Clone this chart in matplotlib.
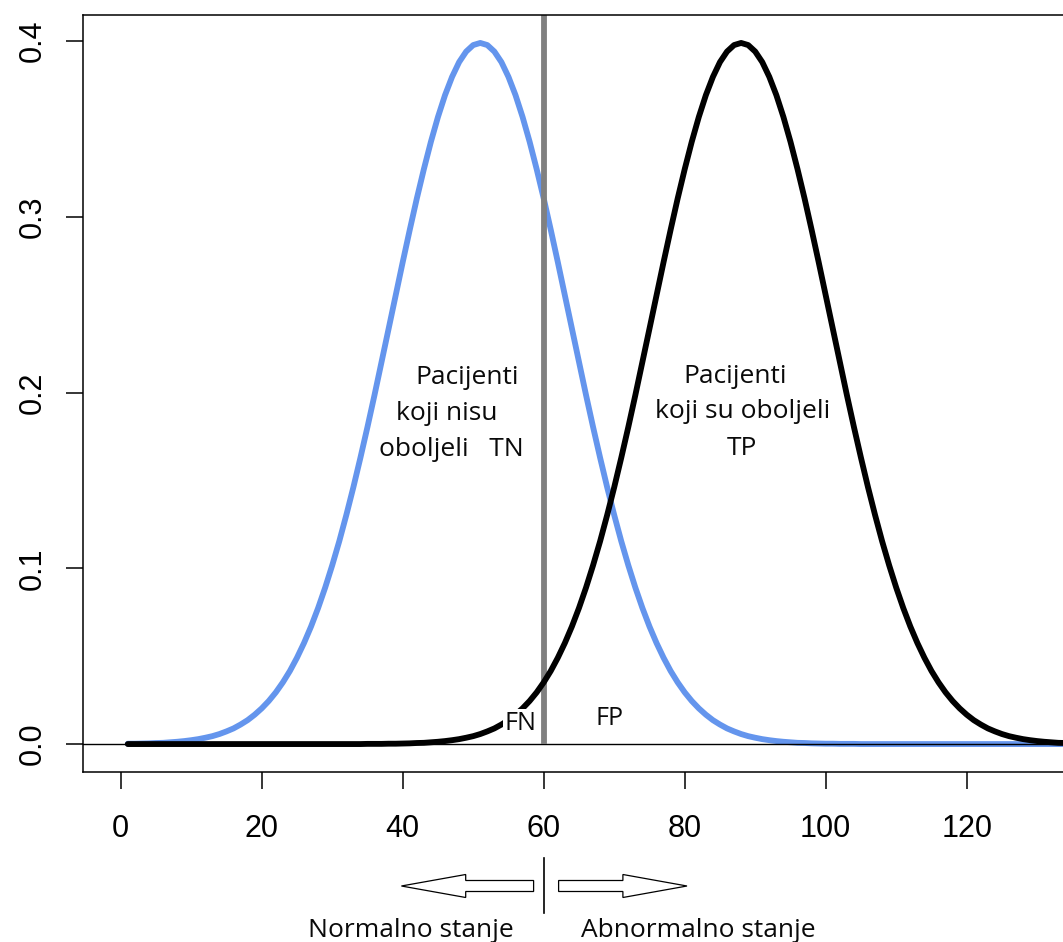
import matplotlib
matplotlib.use("Agg")
import matplotlib.pyplot as plt
from matplotlib.patches import Polygon
from matplotlib.lines import Line2D

# ---- data ----
x_vals = list(range(1, 142))  # 1 .. 141
healthy = [0.0002, 0.0002, 0.0003, 0.0004, 0.0006, 0.0007, 0.0010, 0.0013, 0.0017, 0.0022,
           0.0028, 0.0036, 0.0045, 0.0057, 0.0072, 0.0089, 0.0111, 0.0136, 0.0167, 0.0203,
           0.0245, 0.0294, 0.0351, 0.0416, 0.0491, 0.0575, 0.0669, 0.0774, 0.0890, 0.1017,
           0.1154, 0.1303, 0.1461, 0.1629, 0.1804, 0.1986, 0.2173, 0.2363, 0.2553, 0.2742,
           0.2926, 0.3104, 0.3271, 0.3427, 0.3568, 0.3692, 0.3796, 0.3880, 0.3940, 0.3977,
           0.3989,
           0.3977, 0.3940, 0.3880, 0.3796, 0.3692, 0.3568, 0.3427, 0.3271, 0.3104, 0.2926,
           0.2742, 0.2553, 0.2363, 0.2173, 0.1986, 0.1804, 0.1629, 0.1461, 0.1303, 0.1154,
           0.1017, 0.0890, 0.0774, 0.0669, 0.0575, 0.0491, 0.0416, 0.0351, 0.0294, 0.0245,
           0.0203, 0.0167, 0.0136, 0.0111, 0.0089, 0.0072, 0.0057, 0.0045, 0.0036, 0.0028,
           0.0022, 0.0017, 0.0013, 0.0010, 0.0007, 0.0006, 0.0004, 0.0003, 0.0002, 0.0002,
           0.0001, 0.0001, 0.0001,
           0.0, 0.0, 0.0, 0.0, 0.0, 0.0, 0.0, 0.0, 0.0, 0.0,
           0.0, 0.0, 0.0, 0.0, 0.0, 0.0, 0.0, 0.0, 0.0, 0.0,
           0.0, 0.0, 0.0, 0.0, 0.0, 0.0, 0.0, 0.0, 0.0, 0.0,
           0.0, 0.0, 0.0, 0.0, 0.0, 0.0, 0.0]
diseased = [0.0, 0.0, 0.0, 0.0, 0.0, 0.0, 0.0, 0.0, 0.0, 0.0,
            0.0, 0.0, 0.0, 0.0, 0.0, 0.0, 0.0, 0.0, 0.0, 0.0,
            0.0, 0.0, 0.0, 0.0, 0.0, 0.0, 0.0, 0.0, 0.0, 0.0,
            0.0, 0.0, 0.0, 0.0,
            0.0001, 0.0001, 0.0001,
            0.0002, 0.0002, 0.0003, 0.0004, 0.0006, 0.0007, 0.0010, 0.0013, 0.0017, 0.0022,
            0.0028, 0.0036, 0.0045, 0.0057, 0.0072, 0.0089, 0.0111, 0.0136, 0.0167, 0.0203,
            0.0245, 0.0294, 0.0351, 0.0416, 0.0491, 0.0575, 0.0669, 0.0774, 0.0890, 0.1017,
            0.1154, 0.1303, 0.1461, 0.1629, 0.1804, 0.1986, 0.2173, 0.2363, 0.2553, 0.2742,
            0.2926, 0.3104, 0.3271, 0.3427, 0.3568, 0.3692, 0.3796, 0.3880, 0.3940, 0.3977,
            0.3989,
            0.3977, 0.3940, 0.3880, 0.3796, 0.3692, 0.3568, 0.3427, 0.3271, 0.3104, 0.2926,
            0.2742, 0.2553, 0.2363, 0.2173, 0.1986, 0.1804, 0.1629, 0.1461, 0.1303, 0.1154,
            0.1017, 0.0890, 0.0774, 0.0669, 0.0575, 0.0491, 0.0416, 0.0351, 0.0294, 0.0245,
            0.0203, 0.0167, 0.0136, 0.0111, 0.0089, 0.0072, 0.0057, 0.0045, 0.0036, 0.0028,
            0.0022, 0.0017, 0.0013, 0.0010, 0.0007, 0.0006, 0.0004, 0.0003, 0.0002, 0.0002,
            0.0001, 0.0001, 0.0001]
cutoff = 60
x_ticks = [0, 20, 40, 60, 80, 100, 120]
y_ticks = [0.0, 0.1, 0.2, 0.3, 0.4]
y_ticklabels = ["0.0", "0.1", "0.2", "0.3", "0.4"]

W, H = 1063, 942
fig = plt.figure(figsize=(W / 100, H / 100), dpi=100)

x_lo, x_hi = -5.35, 150.0
ax_w_px = (x_hi - x_lo) * 7.05
ax = fig.add_axes([83 / W, 170 / H, ax_w_px / W, 757 / H])
ax.set_xlim(x_lo, x_hi)
ax.set_ylim(-0.0159, 0.4148)

ax.plot(x_vals, healthy, color="#6495ED", lw=4.2, solid_capstyle="round",
        solid_joinstyle="round", zorder=2)
ax.axhline(0, color="black", lw=1.0, zorder=2.2)
ax.plot([cutoff, cutoff], [0, 0.43], color="#808080", lw=4.2, zorder=2.5,
        solid_capstyle="butt")
ax.plot(x_vals, diseased, color="black", lw=4.2, solid_capstyle="round",
        solid_joinstyle="round", zorder=3)

for s in ax.spines.values():
    s.set_linewidth(1.1)
    s.set_color("black")

tick_font = dict(family="Liberation Sans", size=22)
ax.set_xticks(x_ticks)
ax.set_xticklabels([str(t) for t in x_ticks], fontdict=tick_font)
ax.set_yticks(y_ticks)
ax.set_yticklabels(y_ticklabels, fontdict=tick_font, rotation=90, va="center")
ax.tick_params(axis="both", direction="out", length=12.5, width=1.1, color="black")
ax.tick_params(axis="x", pad=18)
ax.tick_params(axis="y", pad=13)

txt = dict(family="Open Sans", size=19, color="#0a0a0a", ha="center", va="baseline", zorder=6)
ax.text(49.19, 0.2048, "Pacijenti", **txt)
ax.text(46.28, 0.1844, "koji nisu", **txt)
ax.text(46.85, 0.1639, "oboljeli   TN", **txt)
ax.text(87.2, 0.2054, "Pacijenti", **txt)
ax.text(88.2, 0.1855, "koji su oboljeli", **txt)
ax.text(88.1, 0.1644, "TP", **txt)
small = dict(txt, size=18)
ax.text(56.7, 0.0080, "FN", bbox=dict(facecolor="white", edgecolor="none", pad=1.5), **small)
ax.text(69.26, 0.0108, "FP", **small)

# ---- annotation below the axis (pixel overlay) ----
ov = fig.add_axes([0, 0, 1, 1], zorder=5)
ov.set_xlim(0, W)
ov.set_ylim(H, 0)
ov.axis("off")
ov.patch.set_alpha(0)

cy = 886
bh, hh = 5.5, 11.5
left_arrow = [(401.4, cy), (465.7, cy - hh), (465.7, cy - bh), (533.6, cy - bh),
              (533.6, cy + bh), (465.7, cy + bh), (465.7, cy + hh)]
right_arrow = [(687.0, cy), (622.9, cy - hh), (622.9, cy - bh), (558.6, cy - bh),
               (558.6, cy + bh), (622.9, cy + bh), (622.9, cy + hh)]
for verts in (left_arrow, right_arrow):
    ov.add_patch(Polygon(verts, closed=True, facecolor="white", edgecolor="black", lw=0.9))
ov.add_line(Line2D([544, 544], [858, 913], color="black", lw=1.2))

btxt = dict(family="Open Sans", size=19, color="#0a0a0a", va="baseline")
ov.text(411, 937, "Normalno stanje", ha="center", **btxt)
ov.text(698, 937, "Abnormalno stanje", ha="center", **btxt)

fig.savefig("out.png", dpi=100)
